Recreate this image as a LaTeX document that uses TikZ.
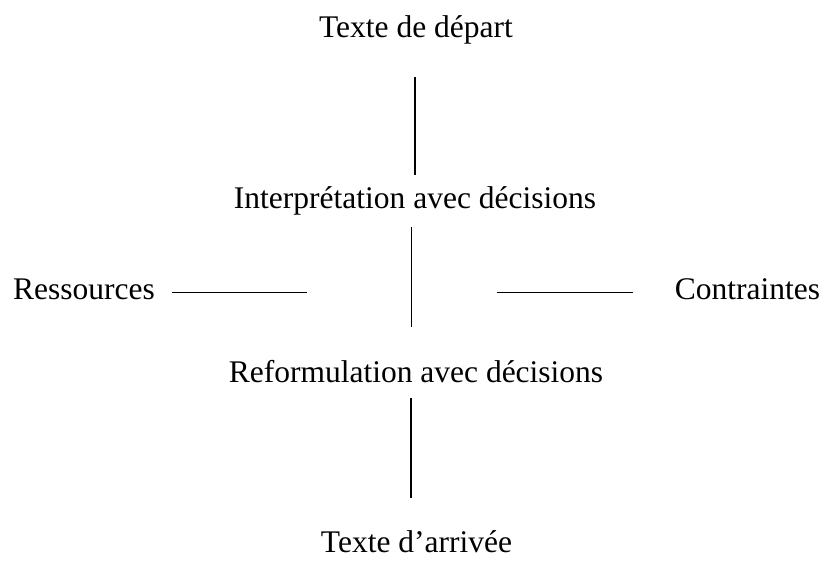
\documentclass[tikz,border=0pt]{standalone}
\usepackage{fontspec}
\setmainfont{Liberation Serif}
\begin{document}
\begin{tikzpicture}[x=1pt,y=1pt,
  label/.style={inner sep=0pt,anchor=base,text height=22pt,text depth=7pt,font=\fontsize{31.5}{38}\selectfont},
  link/.style={line width=1.6pt}]
  \useasboundingbox (0,0) rectangle (823,562);
  % Texts
  \node[label] (depart) at (416,524) {Texte de départ};
  \node[label] (interp) at (415,353) {Interprétation avec décisions};
  \node[label] (reform) at (416,179) {Reformulation avec décisions};
  \node[label,text depth=0pt] (arrivee) at (416.5,9) {Texte d’arrivée};
  \node[label] (ressources) at (84,262) {Ressources};
  \node[label] (contraintes) at (747.5,262) {Contraintes};
  \coordinate (centre) at (412,269.5);
  % Vertical lines
  \draw[link,shorten <=32pt,shorten >=12pt] ([xshift=-1pt]depart.south) -- (interp.north);
  \draw[link,shorten <=11pt,shorten >=34pt] ([xshift=-3.5pt]interp.south) -- ([xshift=-4.5pt]reform.north);
  \draw[link,shorten <=8pt,shorten >=33pt] ([xshift=-5pt]reform.south) -- ([xshift=-5.5pt]arrivee.north);
  % Horizontal lines
  \draw[link,shorten <=17pt,shorten >=105pt] (ressources.east) -- (centre);
  \draw[link,shorten <=42pt,shorten >=85pt] (contraintes.west) -- (centre);
\end{tikzpicture}
\end{document}
